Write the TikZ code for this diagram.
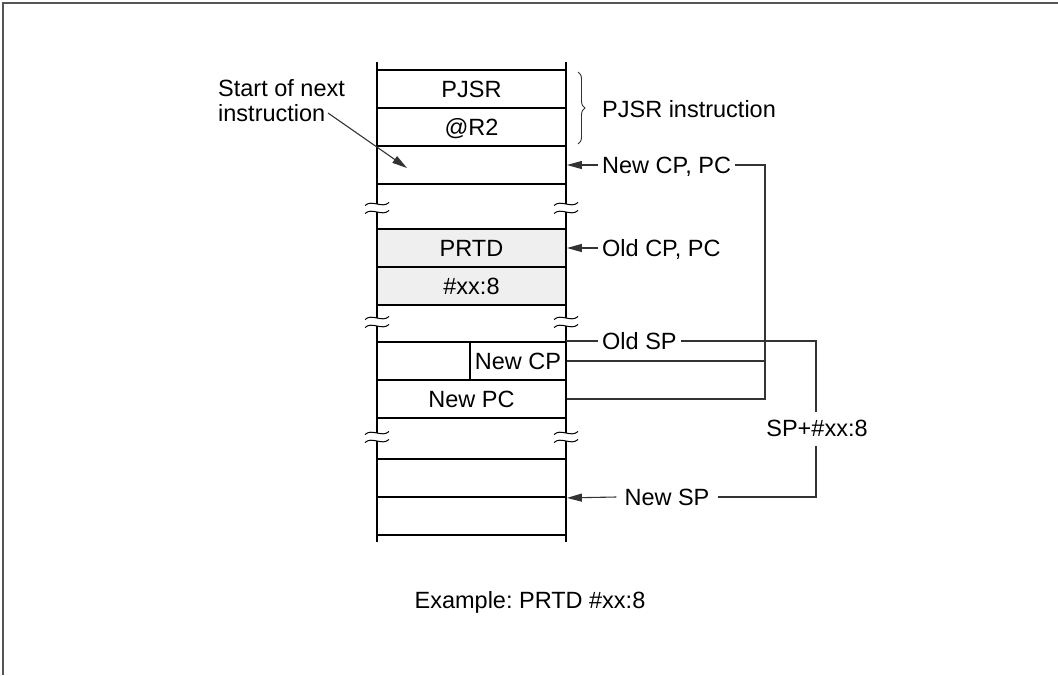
\documentclass[tikz,border=0pt]{standalone}
\usepackage{fontspec}
\setmainfont{Liberation Sans}
\usetikzlibrary{arrows.meta,decorations.pathreplacing}
\frenchspacing
\definecolor{framegray}{HTML}{555555}
\definecolor{conngray}{HTML}{333333}
\definecolor{cellgray}{HTML}{EFEFEF}
\tikzset{
  lbl/.style={font=\fontsize{23.5}{25}\selectfont, inner sep=4pt, text height=17pt, text depth=0pt},
  cell/.style={lbl, draw=black, line width=1.8pt, minimum height=38pt, inner sep=0pt},
  wide/.style={cell, minimum width=189pt},
  shaded/.style={fill=cellgray},
  stackline/.style={black, line width=1.8pt},
  conn/.style={conngray, line width=1.1pt},
  arr/.style={conn, -{Triangle[length=15pt,width=8pt]}},
  brk/.style={black, line width=1pt},
}
\newcommand{\brkmark}[2]{% x, y
  \draw[brk] (#1-12,#2+1.5) .. controls (#1-5,#2-5) and (#1+5,#2+5) .. (#1+12,#2-1.5);
}
\begin{document}
\begin{tikzpicture}[x=1pt,y=-1pt]
\useasboundingbox (0,0) rectangle (1058,675);
% frame (top and left edge)
\draw[framegray, line width=2.5pt] (3,675) -- (3,3) -- (1058,3);

% cells
\node[wide] (pjsr) at (471.5,89) {PJSR};
\node[wide] (r2) at (471.5,127) {@R2};
\node[wide] (nxt) at (471.5,165) {};
\node[wide,shaded] (prtd) at (471.5,248) {PRTD};
\node[wide,shaded] (xx) at (471.5,286) {\#xx:8};
\node[cell, minimum width=93pt] (blank) at (423.5,361) {};
\node[cell, minimum width=96pt] (ncp) at (518,361) {New CP};
\node[wide] (npc) at (471.5,399) {New PC};
\node[wide] (b1) at (471.5,478) {};
\node[wide] (b2) at (471.5,516) {};

% stack side lines with breaks
\foreach \x in {377,566}{
  \draw[stackline] (\x,62) -- (\x,70);
  \draw[stackline] (\x,184) -- (\x,204);
  \draw[stackline] (\x,212) -- (\x,229);
  \draw[stackline] (\x,305) -- (\x,318);
  \draw[stackline] (\x,326) -- (\x,342);
  \draw[stackline] (\x,418) -- (\x,433);
  \draw[stackline] (\x,441) -- (\x,459);
  \draw[stackline] (\x,535) -- (\x,542);
  \brkmark{\x}{204}\brkmark{\x}{212}
  \brkmark{\x}{318}\brkmark{\x}{326}
  \brkmark{\x}{433}\brkmark{\x}{441}
}

% left label
\node[lbl, anchor=west, align=left, text height=, text depth=] (start) at (214,101) {Start of next\\instruction};
\coordinate (sa) at (328,113);
\coordinate (sb) at (407,168);
\draw[arr] (sa) -- (sb);

% brace and PJSR instruction
\draw[conn, line width=0.9pt, decorate, decoration={brace, amplitude=7pt}] (578,72) -- (578,144);
\node[lbl, anchor=west] (pjsrins) at (598,109) {PJSR instruction};

% New CP, PC
\node[lbl, anchor=west] (ncppc) at (598,165) {New CP, PC};
\draw[arr] (ncppc.west) -- (nxt.east);
\coordinate (j1) at (765,399);
\draw[conn] (ncppc.east) -| (j1) -- (npc.east);
\draw[conn] (ncp.east) -- (ncp.east -| j1);

% Old CP, PC
\node[lbl, anchor=west] (ocppc) at (598,248) {Old CP, PC};
\draw[arr] (ocppc.west) -- (prtd.east);

% Old SP / SP+#xx:8 / New SP
\node[lbl, anchor=west] (oldsp) at (598,341) {Old SP};
\coordinate (osl) at (566,341);
\draw[conn] (osl) -- (oldsp.west);
\node[lbl, inner sep=0pt] (spxx) at (817,428) {SP+\#xx:8};
\coordinate (j2) at (816,341);
\coordinate (j3) at (816,497);
\draw[conn] (oldsp.east) -- (j2) -- (j2 |- 0,412);
\node[lbl, inner sep=8pt] (newsp) at (667,497) {New SP};
\draw[conn] (j3 |- 0,446) -- (j3) -- (newsp.east);
\draw[arr] (newsp.west) -- (b1.south east);

% example
\node[lbl] (example) at (530,600) {Example: PRTD \#xx:8};
\end{tikzpicture}
\end{document}
